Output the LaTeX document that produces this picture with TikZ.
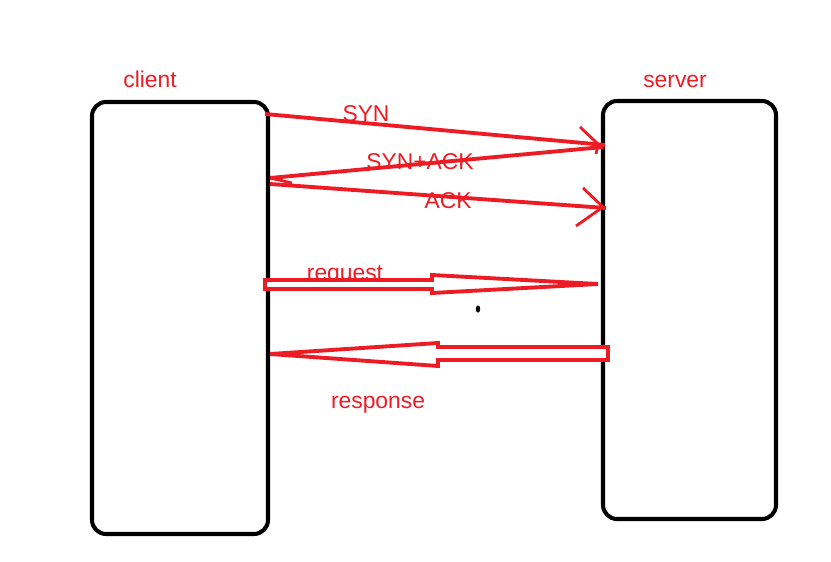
\documentclass[tikz,border=0pt]{standalone}
\usepackage{fontspec}
\setmainfont{Liberation Sans}
\definecolor{paintred}{RGB}{237,28,36}
\begin{document}
\begin{tikzpicture}[
    x=0.02cm, y=-0.02cm,
    box/.style = { line width=2.3pt, rounded corners=8pt },
    msg/.style = { paintred, line width=2.2pt },
    tip/.style = { paintred, line width=1.6pt },
    hollow/.style = { draw=paintred, fill=white, line width=2.2pt },
    lbl/.style = { text=paintred, font=\fontsize{13}{15}\selectfont, inner sep=0pt },
    ]
    \useasboundingbox (0,0) rectangle (831,561);

    % hosts
    \draw[box] (92,102) rectangle (268,534);
    \draw[box] (603,101) rectangle (776,519);
    \node[lbl] (client) at (150,79) {client};
    \node[lbl] (server) at (675,81) {server};

    % handshake
    \coordinate (c1) at (265,114);
    \coordinate (s1) at (605,145);
    \coordinate (s2) at (603,147);
    \coordinate (c2) at (270,178);
    \coordinate (c3) at (270,184);
    \coordinate (s3) at (606,208);
    \draw[msg] (c1) -- (s1);
    \draw[msg] (s2) -- (c2);
    \draw[msg] (c3) -- (s3);
    \draw[tip] (580,127) -- (598,144) -- (596,154);
    \draw[tip] (583,188) -- (603,207) -- (576,226);
    \draw[tip] (c2) -- (292,183);
    \node[lbl] (syn) at (366,114) {SYN};
    \node[lbl] (synack) at (420,162) {SYN+ACK};
    \node[lbl] (ack) at (448,201) {ACK};

    % request / response
    \node[lbl] (request) at (345,275) {request};
    \draw[hollow] (265,280) -- (432,280) -- (432,275) -- (598,284)
        -- (432,293) -- (432,289) -- (265,289) -- cycle;
    \draw[hollow] (608,347) -- (438,347) -- (438,343) -- (270,354)
        -- (438,366) -- (438,360) -- (608,360) -- cycle;
    \node[lbl] (response) at (378,405) {response};

    \fill (478,309) ellipse (2.2 and 3.6);

  \end{tikzpicture}
\end{document}
